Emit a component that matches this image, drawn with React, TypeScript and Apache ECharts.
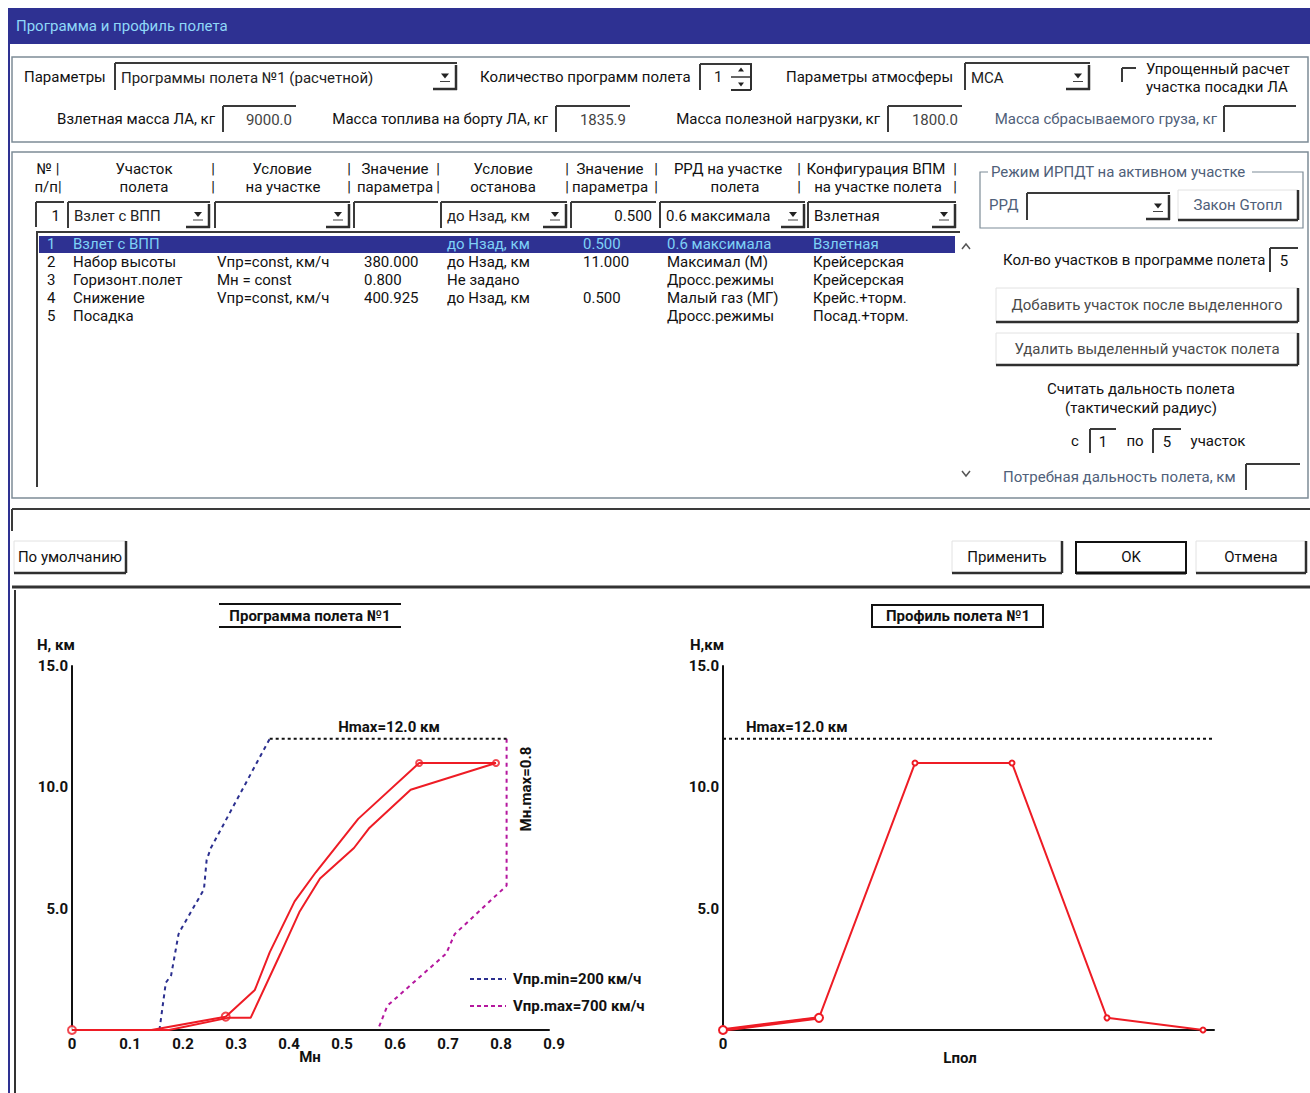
import React, { useEffect, useRef } from "react";
import * as echarts from "echarts";

// ---------- data: Программа полета (H vs Мн) ----------
const machTicks = [0, 0.1, 0.2, 0.3, 0.4, 0.5, 0.6, 0.7, 0.8, 0.9];
const heightTicks = [0, 5, 10, 15];
const vminM = [0.165, 0.177, 0.187, 0.201, 0.207, 0.249, 0.254, 0.262, 0.373];
const vminH = [0, 1.95, 2.25, 3.95, 4.2, 5.8, 7.0, 7.5, 12.0];
const vmaxM = [0.82, 0.82, 0.722, 0.706, 0.595, 0.577];
const vmaxH = [12.0, 5.95, 3.95, 3.15, 1.0, 0];
const hmaxM = [0.373, 0.82];
const hmaxH = [12.0, 12.0];
const climbM = [0, 0.15, 0.29, 0.345, 0.373, 0.42, 0.46, 0.5, 0.54, 0.655, 0.8];
const climbH = [0, 0, 0.55, 1.65, 3.2, 5.3, 6.5, 7.6, 8.7, 11.0, 11.0];
const descentM = [0.8, 0.639, 0.56, 0.532, 0.468, 0.429, 0.393, 0.337, 0.294, 0.183, 0];
const descentH = [11.0, 9.9, 8.3, 7.5, 6.24, 4.86, 3.13, 0.5, 0.5, 0, 0];
const progMarkM = [0, 0.29, 0.655, 0.8];
const progMarkH = [0, 0.55, 11.0, 11.0];

// ---------- data: Профиль полета (H vs Lпол) ----------
const profL = [0, 96, 192, 289, 384, 480];
const profH = [0, 0.5, 11.0, 11.0, 0.5, 0];
const profHmaxL = [0, 497];
const profHmaxH = [12.0, 12.0];
const profLmax = 491;

// ---------- table data ----------
const rowNum = ["1", "2", "3", "4", "5"];
const rowSeg = ["Взлет с ВПП", "Набор высоты", "Горизонт.полет", "Снижение", "Посадка"];
const rowCond = ["", "Vпр=const, км/ч", "Мн = const", "Vпр=const, км/ч", ""];
const rowVal = ["", "380.000", "0.800", "400.925", ""];
const rowStop = ["до Нзад, км", "до Нзад, км", "Не задано", "до Нзад, км", ""];
const rowStopVal = ["0.500", "11.000", "", "0.500", ""];
const rowRrd = ["0.6 максимала", "Максимал (М)", "Дросс.режимы", "Малый газ (МГ)", "Дросс.режимы"];
const rowConf = ["Взлетная", "Крейсерская", "Крейсерская", "Крейс.+торм.", "Посад.+торм."];

const F = 'Roboto, "Liberation Sans", "DejaVu Sans", sans-serif';
const RED = "#ee1c25";
const NAVY = "#2e3192";
const GB = "#4f6079";

const zip = (a: number[], b: number[]) => a.map((v, i) => [v, b[i]]);

function txt(x: number, y: number, text: string, o: any = {}) {
  const align = o.align || "left";
  return {
    type: "text",
    x,
    y,
    rotation: o.rot || 0,
    silent: true,
    style: {
      text,
      fill: o.fill || "#111",
      font: `${o.weight || "normal"} ${o.size || 15}px ${F}`,
      align,
      verticalAlign: "middle",
      textAlign: align,
      textVerticalAlign: "middle",
    },
  };
}
function ln(x1: number, y1: number, x2: number, y2: number, stroke = "#333", lineWidth = 2, lineDash?: number[]) {
  return { type: "line", silent: true, shape: { x1, y1, x2, y2 }, style: { stroke, lineWidth, lineDash } };
}
function rc(x: number, y: number, width: number, height: number, stroke: string, lineWidth = 1, fill = "none") {
  return { type: "rect", silent: true, shape: { x, y, width, height }, style: { stroke, lineWidth, fill } };
}
function sunken(x: number, y: number, w: number, h: number) {
  return [ln(x, y, x + w, y, "#3a3a3a", 2), ln(x, y, x, y + h, "#3a3a3a", 2)];
}
function raised(x: number, y: number, w: number, h: number) {
  return [
    ln(x, y, x + w, y, "#e2e2e2", 1),
    ln(x, y, x, y + h, "#e2e2e2", 1),
    ln(x, y + h, x + w, y + h, "#2f2f2f", 2.5),
    ln(x + w, y, x + w, y + h, "#2f2f2f", 2.5),
  ];
}
function tri(cx: number, cy: number, down = true, s = 4) {
  const pts = down
    ? [[cx - s, cy - s / 2], [cx + s, cy - s / 2], [cx, cy + s / 2 + 1]]
    : [[cx - s, cy + s / 2], [cx + s, cy + s / 2], [cx, cy - s / 2 - 1]];
  return { type: "polygon", silent: true, shape: { points: pts }, style: { fill: "#222" } };
}
function combo(x: number, y: number, w: number, h: number, text: string, fill = "#222") {
  const bx = x + w - 24;
  const els: any[] = [
    ...sunken(x, y, w, h),
    ln(bx, y + h - 1, x + w, y + h - 1, "#2f2f2f", 2.5),
    ln(x + w - 1, y + 2, x + w - 1, y + h, "#2f2f2f", 2.5),
    tri(bx + 12, y + h / 2 - 1),
    ln(bx + 7, y + h / 2 + 5, bx + 17, y + h / 2 + 5, "#444", 1),
  ];
  if (text) els.push(txt(x + 6, y + h / 2 + 1, text, { fill }));
  return els;
}
function edit(x: number, y: number, w: number, h: number, text: string, o: any = {}) {
  const els: any[] = [...sunken(x, y, w, h)];
  if (text) {
    const align = o.align || "right";
    const tx = align === "right" ? x + w - 4 : align === "center" ? x + w / 2 : x + 6;
    els.push(txt(tx, y + h / 2 + 1, text, { align, fill: o.fill || "#444" }));
  }
  return els;
}
function button(x: number, y: number, w: number, h: number, label: string, fill = "#111") {
  return [...raised(x, y, w, h), txt(x + w / 2, y + h / 2, label, { align: "center", fill })];
}

function buildGraphic() {
  const g: any[] = [];
  // title bar and dialog frame
  g.push({ type: "rect", silent: true, shape: { x: 8, y: 8, width: 1302, height: 36 }, style: { fill: NAVY } });
  g.push(txt(16, 26, "Программа и профиль полета", { fill: "#8fd8f8", size: 15 }));
  g.push(ln(9, 44, 9, 1093, NAVY, 2));
  g.push(ln(15, 590, 15, 1093, "#333", 2));

  // group box 1
  g.push(rc(12, 57, 1296, 85, "#7d8c97", 1.5));
  g.push(txt(24, 77, "Параметры"));
  g.push(...combo(115, 63, 342, 27, "Программы полета №1 (расчетной)"));
  g.push(txt(480, 77, "Количество программ полета"));
  g.push(...sunken(700, 64, 52, 26));
  g.push(txt(714, 77, "1", { fill: "#222" }));
  g.push(tri(741, 70, false, 3), tri(741, 84, true, 3));
  g.push(ln(731, 77, 751, 77, "#333", 1.5), ln(751, 64, 751, 90, "#2f2f2f", 2), ln(731, 90, 751, 90, "#2f2f2f", 2));
  g.push(txt(786, 77, "Параметры атмосферы"));
  g.push(...combo(965, 63, 125, 27, "МСА"));
  g.push(...sunken(1122, 68, 14, 14));
  g.push(txt(1146, 69, "Упрощенный расчет"));
  g.push(txt(1146, 87, "участка посадки ЛА"));

  g.push(txt(215, 119, "Взлетная масса ЛА, кг", { align: "right" }));
  g.push(...edit(223, 106, 73, 26, "9000.0"));
  g.push(txt(548, 119, "Масса топлива на борту ЛА, кг", { align: "right" }));
  g.push(...edit(556, 106, 74, 26, "1835.9"));
  g.push(txt(880, 119, "Масса полезной нагрузки, кг", { align: "right" }));
  g.push(...edit(888, 106, 74, 26, "1800.0"));
  g.push(txt(1217, 119, "Масса сбрасываемого груза, кг", { align: "right", fill: GB }));
  g.push(...edit(1224, 106, 72, 26, ""));

  // group box 2
  g.push(rc(12, 152, 1296, 346, "#7d8c97", 1.5));
  const h1: [string, number][] = [
    ["№ |", 48], ["Участок", 144], ["|", 213], ["Условие", 282], ["|", 349], ["Значение", 395], ["|", 438],
    ["Условие", 503], ["|", 567], ["Значение", 610], ["|", 656], ["РРД на участке", 728], ["|", 799],
    ["Конфигурация ВПМ", 876], ["|", 955],
  ];
  const h2: [string, number][] = [
    ["п/п|", 48], ["полета", 144], ["|", 213], ["на участке", 283], ["|", 349], ["параметра", 395], ["|", 438],
    ["останова", 503], ["|", 567], ["параметра", 610], ["|", 656], ["полета", 735], ["|", 799],
    ["на участке полета", 878], ["|", 955],
  ];
  h1.forEach(([t, x]) => g.push(txt(x, 169, t, { align: "center" })));
  h2.forEach(([t, x]) => g.push(txt(x, 187, t, { align: "center" })));

  g.push(...edit(36, 202, 28, 25, "1", { fill: "#111" }));
  g.push(...combo(68, 202, 142, 26, "Взлет с ВПП"));
  g.push(...combo(215, 202, 135, 26, ""));
  g.push(...edit(354, 202, 84, 26, ""));
  g.push(...combo(441, 202, 126, 26, "до Нзад, км"));
  g.push(...edit(571, 202, 85, 26, "0.500", { fill: "#111" }));
  g.push(...combo(660, 202, 145, 26, "0.6 максимала", "#111"));
  g.push(...combo(808, 202, 148, 26, "Взлетная", "#111"));

  // list box
  g.push(ln(36, 232, 960, 232, "#3a3a3a", 2), ln(37, 232, 37, 487, "#3a3a3a", 2));
  g.push({ type: "rect", silent: true, shape: { x: 39, y: 236, width: 916, height: 17 }, style: { fill: NAVY } });
  const cols = [47, 73, 217, 364, 447, 583, 667, 813];
  rowNum.forEach((n, i) => {
    const y = 244 + i * 18;
    const fill = i === 0 ? "#7fd2f7" : "#111";
    const vals = [n, rowSeg[i], rowCond[i], rowVal[i], rowStop[i], rowStopVal[i], rowRrd[i], rowConf[i]];
    vals.forEach((v, c) => {
      if (v) g.push(txt(cols[c], y, v, { fill }));
    });
  });
  g.push({ type: "polyline", silent: true, shape: { points: [[962, 249], [966, 244], [970, 249]] }, style: { stroke: "#555", lineWidth: 1.5, fill: "none" } });
  g.push({ type: "polyline", silent: true, shape: { points: [[962, 471], [966, 476], [970, 471]] }, style: { stroke: "#555", lineWidth: 1.5, fill: "none" } });

  // right panel
  g.push(rc(980, 172, 323, 56, "#7d8c97", 1.2));
  g.push({ type: "rect", silent: true, shape: { x: 988, y: 164, width: 264, height: 16 }, style: { fill: "#fff" } });
  g.push(txt(991, 172, "Режим ИРПДТ на активном участке", { fill: GB }));
  g.push(txt(989, 205, "РРД", { fill: GB }));
  g.push(...combo(1027, 193, 143, 27, ""));
  g.push(...button(1178, 190, 120, 30, "Закон Gтопл", GB));
  g.push(txt(1003, 260, "Кол-во участков в программе полета"));
  g.push(...edit(1270, 248, 28, 24, "5", { align: "center", fill: "#111" }));
  g.push(...button(996, 288, 302, 34, "Добавить участок после выделенного", "#4a4a4a"));
  g.push(...button(996, 333, 302, 32, "Удалить выделенный участок полета", "#4a4a4a"));
  g.push(txt(1141, 389, "Считать дальность полета", { align: "center" }));
  g.push(txt(1141, 408, "(тактический радиус)", { align: "center" }));
  g.push(txt(1075, 441, "с", { align: "center" }));
  g.push(...edit(1090, 429, 26, 24, "1", { align: "center", fill: "#111" }));
  g.push(txt(1135, 441, "по", { align: "center" }));
  g.push(...edit(1153, 429, 28, 24, "5", { align: "center", fill: "#111" }));
  g.push(txt(1218, 441, "участок", { align: "center" }));
  g.push(txt(1003, 477, "Потребная дальность полета, км", { fill: GB }));
  g.push(...edit(1246, 464, 54, 26, ""));

  // status box and buttons
  g.push(ln(12, 509, 1310, 509, "#3a3a3a", 2), ln(12, 509, 12, 531, "#3a3a3a", 2));
  g.push(...button(14, 541, 112, 32, "По умолчанию"));
  g.push(...button(952, 541, 110, 32, "Применить"));
  g.push(rc(1076, 542, 110, 31, "#111", 2));
  g.push(ln(1076, 573, 1186, 573, "#111", 3));
  g.push(txt(1131, 557, "OK", { align: "center" }));
  g.push(...button(1196, 541, 110, 32, "Отмена"));
  g.push(ln(12, 587, 1310, 587, "#333", 3));

  // chart 1 decorations
  g.push(ln(219, 604, 401, 604, "#111", 2), ln(219, 627, 401, 627, "#111", 2));
  g.push(txt(310, 616, "Программа полета №1", { align: "center", weight: "bold" }));
  g.push(txt(37, 645, "H, км", { weight: "bold" }));
  g.push(txt(389, 727, "Hmax=12.0 км", { align: "center", weight: "bold" }));
  g.push(txt(526, 789, "Мн.max=0.8", { align: "center", weight: "bold", rot: Math.PI / 2 }));
  g.push(txt(310, 1057, "Мн", { align: "center", weight: "bold" }));
  g.push(ln(470, 979, 506, 979, "#2b2f8f", 2, [4, 3]));
  g.push(txt(513, 979, "Vпр.min=200 км/ч", { weight: "bold" }));
  g.push(ln(470, 1006, 506, 1006, "#b5179e", 2, [4, 3]));
  g.push(txt(513, 1006, "Vпр.max=700 км/ч", { weight: "bold" }));

  // chart 2 decorations
  g.push(rc(872, 605, 171, 22, "#111", 2));
  g.push(txt(958, 616, "Профиль полета №1", { align: "center", weight: "bold" }));
  g.push(txt(690, 645, "H,км", { weight: "bold" }));
  g.push(txt(746, 727, "Hmax=12.0 км", { weight: "bold" }));
  g.push(txt(960, 1058, "Lпол", { align: "center", weight: "bold" }));
  return g;
}

const axisLine = { show: true, onZero: false, lineStyle: { color: "#111", width: 2 } };
const labelBase = { color: "#111", fontSize: 15, fontWeight: "bold" as const, fontFamily: F };

export default function App() {
  const ref = useRef<HTMLDivElement>(null);
  useEffect(() => {
    if (!ref.current) return;
    const chart = echarts.init(ref.current, undefined, { renderer: "svg" });
    const option: any = {
      animation: false,
      backgroundColor: "#ffffff",
      grid: [
        { left: 72, top: 666, width: 477, height: 364 },
        { left: 723, top: 666, width: profLmax, height: 364 },
      ],
      xAxis: [
        {
          type: "value", gridIndex: 0, min: machTicks[0], max: machTicks[machTicks.length - 1], interval: 0.1,
          axisLine, axisTick: { show: false }, splitLine: { show: false },
          axisLabel: {
            ...labelBase, margin: 6,
            formatter: (v: number) => (v === 0 ? "{z|0}" : "{a|" + v.toFixed(1) + "}"),
            rich: {
              z: { ...labelBase },
              a: { ...labelBase, padding: [0, 0, 0, 10] },
            },
          },
        },
        {
          type: "value", gridIndex: 1, min: 0, max: profLmax, interval: profLmax,
          axisLine, axisTick: { show: false }, splitLine: { show: false },
          axisLabel: { ...labelBase, margin: 6, formatter: (v: number) => (v === 0 ? "0" : "") },
        },
      ],
      yAxis: [0, 1].map((gi) => ({
        type: "value", gridIndex: gi, min: heightTicks[0], max: heightTicks[heightTicks.length - 1], interval: 5,
        axisLine, axisTick: { show: false }, splitLine: { show: false },
        axisLabel: { ...labelBase, margin: 4, formatter: (v: number) => (v === 0 ? "" : v.toFixed(1)) },
      })),
      series: [
        { name: "Vпр.min", type: "line", xAxisIndex: 0, yAxisIndex: 0, data: zip(vminM, vminH), symbol: "none", lineStyle: { color: "#2b2f8f", width: 2, type: [4, 4] } },
        { name: "Vпр.max", type: "line", xAxisIndex: 0, yAxisIndex: 0, data: zip(vmaxM, vmaxH), symbol: "none", lineStyle: { color: "#b5179e", width: 2, type: [4, 4] } },
        { name: "Hmax", type: "line", xAxisIndex: 0, yAxisIndex: 0, data: zip(hmaxM, hmaxH), symbol: "none", lineStyle: { color: "#111", width: 2, type: [3, 3] } },
        { name: "Набор", type: "line", xAxisIndex: 0, yAxisIndex: 0, data: zip(climbM, climbH), symbol: "none", lineStyle: { color: RED, width: 2 } },
        { name: "Снижение", type: "line", xAxisIndex: 0, yAxisIndex: 0, data: zip(descentM, descentH), symbol: "none", lineStyle: { color: RED, width: 2 } },
        {
          name: "Точки программы", type: "scatter", xAxisIndex: 0, yAxisIndex: 0, data: zip(progMarkM, progMarkH),
          symbol: "emptyCircle", symbolSize: (_v: any, p: any) => (p.dataIndex <= 1 ? 8 : 6),
          itemStyle: { color: RED, borderColor: RED, borderWidth: 2 },
        },
        { name: "Hmax2", type: "line", xAxisIndex: 1, yAxisIndex: 1, clip: false, data: zip(profHmaxL, profHmaxH), symbol: "none", lineStyle: { color: "#111", width: 2, type: [3, 3] } },
        {
          name: "Взлет", type: "line", xAxisIndex: 1, yAxisIndex: 1, data: zip(profL.slice(0, 2), profH.slice(0, 2)),
          symbol: "none", lineStyle: { color: RED, width: 3.5 },
        },
        {
          name: "Профиль", type: "line", xAxisIndex: 1, yAxisIndex: 1, data: zip(profL, profH),
          symbol: "emptyCircle", symbolSize: (_v: any, p: any) => (p.dataIndex < 2 ? 8 : 5),
          lineStyle: { color: RED, width: 2 }, itemStyle: { color: RED, borderColor: RED, borderWidth: 1.5 },
        },
      ],
      graphic: { elements: buildGraphic() },
    };
    chart.setOption(option);
    return () => chart.dispose();
  }, []);
  return (
    <div
      ref={ref}
      style={{ position: "absolute", left: 0, top: 0, width: 1310, height: 1093, background: "#fff" }}
    />
  );
}
